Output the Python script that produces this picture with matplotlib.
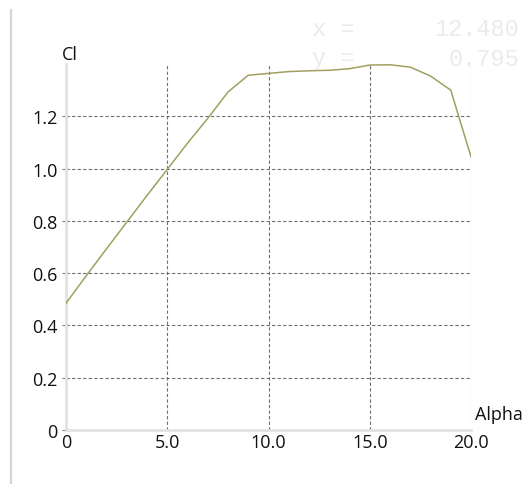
import matplotlib
matplotlib.use("Agg")
import matplotlib.pyplot as plt
from matplotlib.lines import Line2D
from matplotlib.transforms import ScaledTranslation

# lift polar: Cl against angle of attack
alpha = [0, 1, 2, 3, 4, 5, 6, 7, 8, 9, 10, 11, 12, 13, 14, 15, 16, 17, 18, 19, 20]
cl = [0.485, 0.590, 0.693, 0.795, 0.897, 0.997, 1.097, 1.192, 1.293, 1.357,
      1.364, 1.371, 1.374, 1.376, 1.382, 1.396, 1.397, 1.388, 1.354, 1.300, 1.045]

xticks = [0, 5, 10, 15, 20]
xlabels = ["0", "5.0", "10.0", "15.0", "20.0"]
yticks = [0, 0.2, 0.4, 0.6, 0.8, 1.0, 1.2]
ylabels = ["0", "0.2", "0.4", "0.6", "0.8", "1.0", "1.2"]

cursor_x = "12.480"
cursor_y = "0.795"

W, H = 530, 485
fig = plt.figure(figsize=(W / 100, H / 100), dpi=100)
fig.patch.set_facecolor("white")

ax = fig.add_axes([66 / W, 54 / H, 405 / W, 366 / H])
ax.set_xlim(0, 20)
ax.set_ylim(0, 1.4)

ax.plot(alpha, cl, color="#a0a060", lw=1.1, zorder=3)

ax.set_xticks(xticks)
ax.set_xticklabels(xlabels)
ax.set_yticks(yticks)
ax.set_yticklabels(ylabels)

font = "Open Sans"
for lab in ax.get_xticklabels() + ax.get_yticklabels():
    lab.set_fontfamily(font)
    lab.set_fontsize(13)
    lab.set_color("#111111")

# the non-zero x labels sit a little right of their ticks
shift = ScaledTranslation(5 / 100, 0, fig.dpi_scale_trans)
for lab in ax.get_xticklabels()[1:]:
    lab.set_transform(lab.get_transform() + shift)

ax.tick_params(axis="x", length=0, pad=2)
ax.tick_params(axis="y", length=3, width=0.8, color="#808080", pad=3)

ax.grid(True, color="#707070", lw=0.8, ls=(0, (3, 2)))
ax.set_axisbelow(True)

for side in ("top", "right"):
    ax.spines[side].set_visible(False)
for side in ("left", "bottom"):
    ax.spines[side].set_color("#e2e2e2")
    ax.spines[side].set_linewidth(2)

# axis names
fig.text(62 / W, 1 - 55 / H, "Cl", fontfamily=font, fontsize=13,
         ha="left", va="center", color="#111111")
fig.text(475 / W, 1 - 415 / H, "Alpha", fontfamily=font, fontsize=13,
         ha="left", va="center", color="#111111")

# cursor readout
mono = dict(fontfamily="Liberation Mono", fontsize=17, color="#ebebeb")
fig.text(312 / W, 1 - 30 / H, "x =", ha="left", va="center", **mono)
fig.text(519 / W, 1 - 30 / H, cursor_x, ha="right", va="center", **mono)
fig.text(312 / W, 1 - 59 / H, "y =", ha="left", va="center", **mono)
fig.text(519 / W, 1 - 59 / H, cursor_y, ha="right", va="center", **mono)

# panel border on the left
fig.add_artist(Line2D([11 / W, 11 / W], [0, 1 - 11 / H], transform=fig.transFigure,
                      color="#d4d4d4", lw=1.6))

fig.savefig("out.png", dpi=100)
